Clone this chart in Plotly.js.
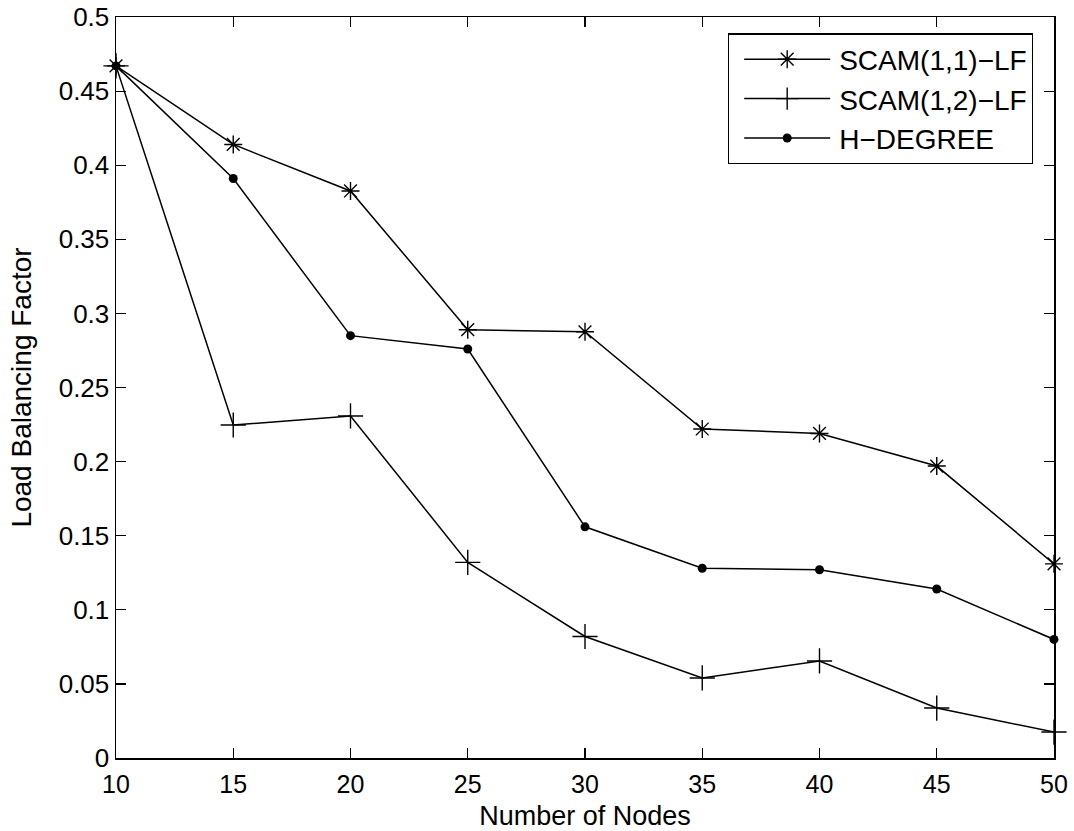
<!DOCTYPE html>
<html>
<head>
<meta charset="utf-8">
<script src="https://cdn.plot.ly/plotly-3.0.1.min.js"></script>
<style>html,body{margin:0;padding:0;background:#fff;}#chart{width:1074px;height:831px;}</style>
</head>
<body>
<div id="chart"></div>
<script>
const nodes = [10, 15, 20, 25, 30, 35, 40, 45, 50];
const scam11 = [0.467, 0.414, 0.3826, 0.289, 0.2876, 0.222, 0.219, 0.197, 0.131];
const scam12 = [0.467, 0.2247, 0.2308, 0.132, 0.082, 0.054, 0.0655, 0.0337, 0.0175];
const hdegree = [0.467, 0.391, 0.285, 0.276, 0.156, 0.128, 0.127, 0.114, 0.080];
const seriesNames = ['SCAM(1,1)\u2212LF', 'SCAM(1,2)\u2212LF', 'H\u2212DEGREE'];
const xTicks = [10, 15, 20, 25, 30, 35, 40, 45, 50];
const yTicks = [0, 0.05, 0.1, 0.15, 0.2, 0.25, 0.3, 0.35, 0.4, 0.45, 0.5];
const yTickText = ['0', '0.05', '0.1', '0.15', '0.2', '0.25', '0.3', '0.35', '0.4', '0.45', '0.5'];

const font = 'Liberation Sans, Arial, Helvetica, sans-serif';
const line = {color: '#000', width: 1.5};
const traces = [
  {x: nodes, y: scam11, name: seriesNames[0], mode: 'lines+markers', line: line,
   marker: {symbol: 'asterisk-open', size: 15, color: '#000', line: {color: '#000', width: 1.4}}, cliponaxis: false},
  {x: nodes, y: scam12, name: seriesNames[1], mode: 'lines+markers', line: line,
   marker: {symbol: 'cross-thin-open', size: 18, color: '#000', line: {color: '#000', width: 1.4}}, cliponaxis: false},
  {x: nodes, y: hdegree, name: seriesNames[2], mode: 'lines+markers', line: line,
   marker: {symbol: 'circle', size: 9, color: '#000'}, cliponaxis: false}
];

const axisCommon = {
  showline: true, linecolor: '#000', linewidth: 1.5, mirror: 'ticks',
  ticks: 'inside', ticklen: 10, tickwidth: 1.2, tickcolor: '#000',
  showgrid: false, zeroline: false,
  tickfont: {family: font, size: 26, color: '#000'}
};

const layout = {
  width: 1074, height: 831,
  margin: {l: 116, r: 20, t: 17, b: 73},
  paper_bgcolor: '#fff', plot_bgcolor: '#fff',
  font: {family: font, color: '#000'},
  xaxis: Object.assign({}, axisCommon, {
    range: [10, 50], tickvals: xTicks, ticktext: xTicks.map(String),
    automargin: false, ticklabelstandoff: 3,
    tickfont: {family: font, size: 25, color: '#000'},
    title: {text: 'Number of Nodes', font: {family: font, size: 27, color: '#000'}, standoff: 14}
  }),
  yaxis: Object.assign({}, axisCommon, {
    range: [0, 0.5], tickvals: yTicks, ticktext: yTickText,
    automargin: false,
    title: {text: 'Load Balancing Factor', font: {family: font, size: 28, color: '#000'}, standoff: 19}
  }),
  showlegend: true,
  legend: {
    x: 0.9776, y: 0.978, xanchor: 'right', yanchor: 'top',
    bgcolor: '#fff', bordercolor: '#000', borderwidth: 1.2,
    font: {family: font, size: 28, color: '#000'},
    itemwidth: 100, tracegroupgap: 0
  }
};

Plotly.newPlot('chart', traces, layout, {displayModeBar: false, staticPlot: true}).then(function (gd) {
  // lengthen the legend sample lines to match the reference style
  gd.querySelectorAll('.legend .traces').forEach(function (t) {
    t.querySelectorAll('.legendlines path').forEach(function (p) { p.setAttribute('d', 'M15,0h86'); });
    t.querySelectorAll('.legendpoints path').forEach(function (p) { p.setAttribute('transform', 'translate(58,0)'); });
  });
});
</script>
</body>
</html>
